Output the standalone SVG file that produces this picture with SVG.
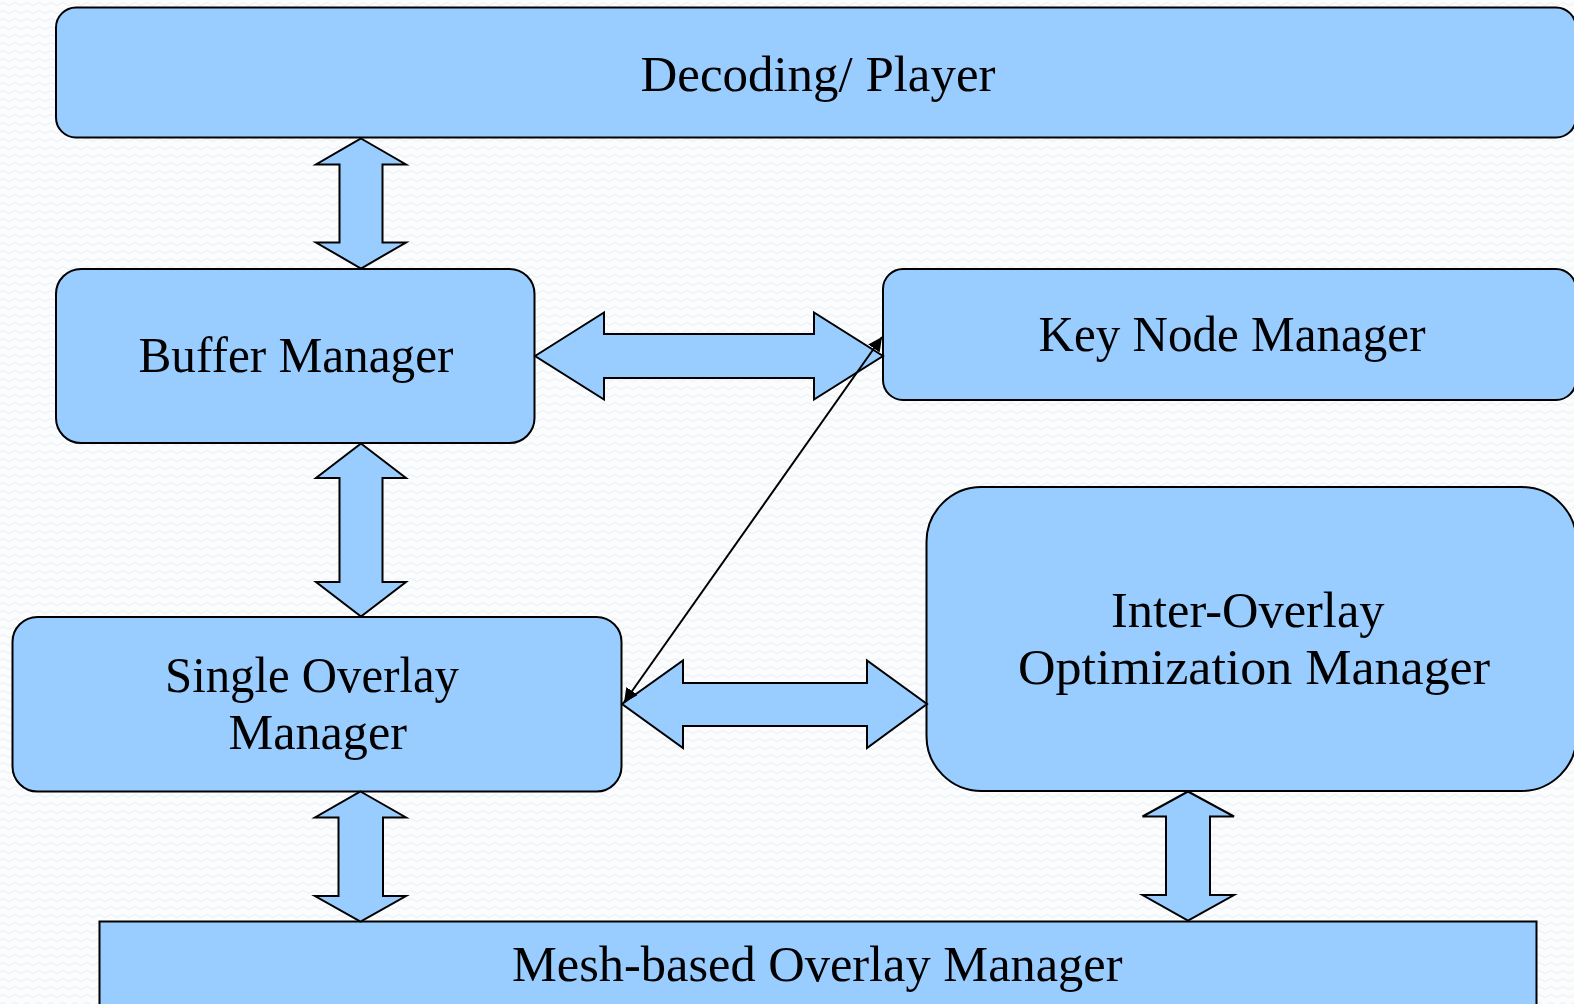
<svg xmlns="http://www.w3.org/2000/svg" width="1574" height="1004" viewBox="0 0 1574 1004">
<defs>
<style>
.box{fill:#99ccff;stroke:#000;stroke-width:2}
.fat{fill:#99ccff;stroke:#000;stroke-width:2;stroke-linejoin:miter}
.lbl{font-family:"Liberation Serif","Times New Roman",serif;font-size:50px;fill:#000}
.thin{stroke:#000;stroke-width:2;fill:none}
</style>
<pattern id="bg" width="12" height="8" patternUnits="userSpaceOnUse">
<rect width="12" height="8" fill="#fbfcfd"/>
<path d="M0 4 Q3 1 6 4 T12 4" fill="none" stroke="#eceff2" stroke-width="1"/>
</pattern>
<marker id="ah" viewBox="0 0 10 10" refX="10" refY="5" markerWidth="7" markerHeight="7" markerUnits="strokeWidth" orient="auto-start-reverse">
<path d="M0 0 L10 5 L0 10 z" fill="#000"/>
</marker>
</defs>
<rect width="1574" height="1004" fill="url(#bg)"/>

<g id="node-decoding">
<rect class="box" x="56" y="7.5" width="1520" height="130" rx="20"/>
<text class="lbl" x="640.5" y="91" textLength="355" lengthAdjust="spacingAndGlyphs">Decoding/ Player</text>
</g>
<g id="node-buffer">
<rect class="box" x="56" y="269" width="478.5" height="174" rx="25"/>
<text class="lbl" x="138.5" y="371.5" textLength="315" lengthAdjust="spacingAndGlyphs">Buffer Manager</text>
</g>
<g id="node-keynode">
<rect class="box" x="883" y="269" width="693" height="131" rx="20"/>
<text class="lbl" x="1038.5" y="351" textLength="387" lengthAdjust="spacingAndGlyphs">Key Node Manager</text>
</g>
<g id="node-single">
<rect class="box" x="12.5" y="617" width="609" height="174.5" rx="25"/>
<text class="lbl" x="165" y="691.5" textLength="294" lengthAdjust="spacingAndGlyphs">Single Overlay</text>
<text class="lbl" x="228.5" y="749" textLength="178.5" lengthAdjust="spacingAndGlyphs">Manager</text>
</g>
<g id="node-inter">
<rect class="box" x="926.5" y="487" width="650" height="304" rx="55"/>
<text class="lbl" x="1111" y="626.5" textLength="273.5" lengthAdjust="spacingAndGlyphs">Inter-Overlay</text>
<text class="lbl" x="1018" y="683.5" textLength="472" lengthAdjust="spacingAndGlyphs">Optimization Manager</text>
</g>
<g id="node-mesh">
<rect class="box" x="99.5" y="921.5" width="1437" height="100"/>
<text class="lbl" x="512" y="981" textLength="610.5" lengthAdjust="spacingAndGlyphs">Mesh-based Overlay Manager</text>
</g>

<g id="connectors">
<polygon class="fat" points="361,138.5 406,164.5 382.5,164.5 382.5,242.5 406,242.5 361,268.5 316,242.5 339.5,242.5 339.5,164.5 316,164.5"/>
<polygon class="fat" points="361,443.5 406,478 382.5,478 382.5,582 406,582 361,616.5 316,582 339.5,582 339.5,478 316,478"/>
<polygon class="fat" points="360.5,791.5 406,817.5 383,817.5 383,896 406,896 360.5,921.5 315,896 338.5,896 338.5,817.5 315,817.5"/>
<polygon class="fat" points="1188,791.5 1234,816.5 1210,816.5 1210,895 1234,895 1188,920.5 1142.5,895 1166,895 1166,816.5 1142.5,816.5"/>
<polygon class="fat" points="535,356 604,312.5 604,334 814,334 814,312.5 883,356 814,399.5 814,378 604,378 604,399.5"/>
<polygon class="fat" points="622,704 683,660.5 683,683 867,683 867,660.5 927,704 867,748 867,726 683,726 683,748"/>
<line class="thin" x1="624" y1="702.5" x2="882" y2="337" marker-start="url(#ah)" marker-end="url(#ah)"/>
</g>
</svg>
